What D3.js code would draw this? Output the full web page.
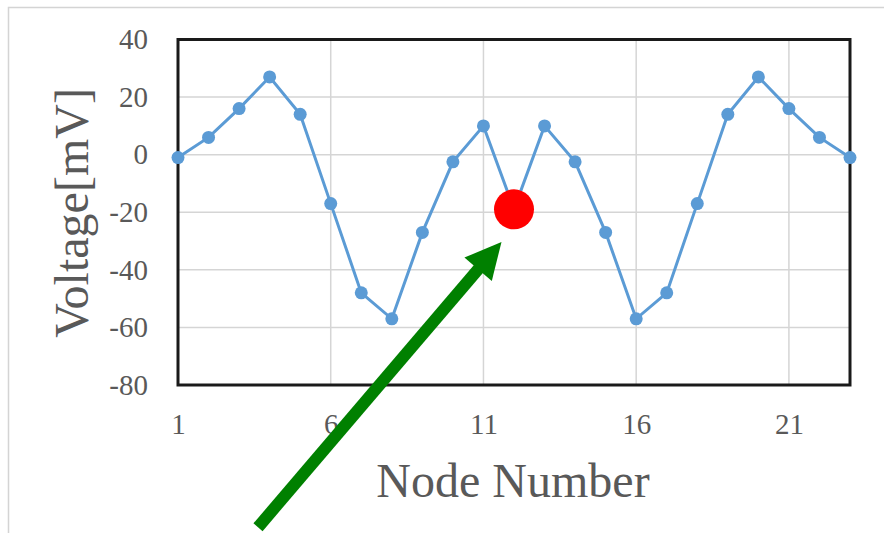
<!DOCTYPE html>
<html>
<head>
<meta charset="utf-8">
<script src="https://cdn.jsdelivr.net/npm/d3@7"></script>
<style>
  body { margin: 0; background: #fff; }
  text { font-family: "Liberation Serif", "Times New Roman", serif; }
</style>
</head>
<body>
<svg id="chart" width="884" height="533"></svg>
<script>
// data
const nodes = d3.range(1, 24);
const voltage = [-1, 6, 16, 27, 14, -17, -48, -57, -27, -2.5, 10, -19, 10, -2.5, -27, -57, -48, -17, 14, 27, 16, 6, -1];
const highlightNode = 12;
const yTicks = [-80, -60, -40, -20, 0, 20, 40];
const xTicks = [1, 6, 11, 16, 21];
// arrow in data units (node, mV): tail -> tip
const arrowTail = [3.62, -129.4];
const arrowTip = [11.59, -30.3];

let dims = { width: 884, height: 533, left: 178, right: 34, top: 39.5, bottom: 148 };
dims.plotW = dims.width - dims.left - dims.right;
dims.plotH = dims.height - dims.top - dims.bottom;

const svg = d3.select("#chart");

// outer frame
svg.append("path")
  .attr("d", "M8.5,540 V7.5 H890")
  .attr("fill", "none")
  .attr("stroke", "#d4d4d4")
  .attr("stroke-width", 1.5);

const x = d3.scaleLinear().domain([1, 23]).range([dims.left, dims.left + dims.plotW]);
const y = d3.scaleLinear().domain([-80, 40]).range([dims.top + dims.plotH, dims.top]);

// grid
svg.append("g").selectAll("line").data(yTicks).join("line")
  .attr("x1", x(1)).attr("x2", x(23))
  .attr("y1", d => y(d)).attr("y2", d => y(d))
  .attr("stroke", "#d5d5d5").attr("stroke-width", 1.5);
svg.append("g").selectAll("line").data(xTicks).join("line")
  .attr("x1", d => x(d)).attr("x2", d => x(d))
  .attr("y1", y(-80)).attr("y2", y(40))
  .attr("stroke", "#d5d5d5").attr("stroke-width", 1.5);

// axes labels (plain hyphen minus like the original)
const fmt = d => String(d);
const yAxis = d3.axisLeft(y).tickValues(yTicks).tickFormat(fmt).tickSize(0).tickPadding(30);
svg.append("g")
  .attr("transform", `translate(${dims.left},0)`)
  .call(yAxis)
  .call(g => g.select(".domain").remove())
  .call(g => g.selectAll("text")
    .attr("fill", "#595959")
    .style("font-family", "'Liberation Serif', serif")
    .style("font-size", "29px"));

const xAxis = d3.axisBottom(x).tickValues(xTicks).tickFormat(fmt).tickSize(0).tickPadding(28);
svg.append("g")
  .attr("transform", `translate(0,${y(-80)})`)
  .call(xAxis)
  .call(g => g.select(".domain").remove())
  .call(g => g.selectAll("text")
    .attr("fill", "#595959")
    .style("font-family", "'Liberation Serif', serif")
    .style("font-size", "29px"));

// plot border
svg.append("rect")
  .attr("x", x(1)).attr("y", y(40))
  .attr("width", x(23) - x(1)).attr("height", y(-80) - y(40))
  .attr("fill", "none")
  .attr("stroke", "#1a1a1a")
  .attr("stroke-width", 3);

// titles
svg.append("text")
  .attr("x", 513).attr("y", 497)
  .attr("text-anchor", "middle")
  .attr("fill", "#595959")
  .style("font-size", "48px")
  .text("Node Number");

svg.append("text")
  .attr("transform", "translate(88,213) rotate(-90)")
  .attr("text-anchor", "middle")
  .attr("fill", "#595959")
  .style("font-size", "48px")
  .text("Voltage[mV]");

// series
const data = nodes.map((n, i) => ({ node: n, v: voltage[i] }));
const line = d3.line().x(d => x(d.node)).y(d => y(d.v));

svg.append("path")
  .datum(data)
  .attr("d", line)
  .attr("fill", "none")
  .attr("stroke", "#5b9bd5")
  .attr("stroke-width", 3);

svg.append("g").selectAll("circle")
  .data(data.filter(d => d.node !== highlightNode))
  .join("circle")
  .attr("cx", d => x(d.node))
  .attr("cy", d => y(d.v))
  .attr("r", 6.5)
  .attr("fill", "#5b9bd5");

const hl = data.find(d => d.node === highlightNode);
svg.append("circle")
  .attr("cx", x(hl.node)).attr("cy", y(hl.v))
  .attr("r", 20)
  .attr("fill", "#ff0000");

// green arrow
const tx = x(arrowTail[0]), ty = y(arrowTail[1]);
const hx = x(arrowTip[0]), hy = y(arrowTip[1]);
const ang = Math.atan2(hy - ty, hx - tx);
const headLen = 36, headHalf = 18;
const bx = hx - headLen * Math.cos(ang), by = hy - headLen * Math.sin(ang);
svg.append("line")
  .attr("x1", tx).attr("y1", ty)
  .attr("x2", bx + 2 * Math.cos(ang)).attr("y2", by + 2 * Math.sin(ang))
  .attr("stroke", "#008000")
  .attr("stroke-width", 12);
svg.append("polygon")
  .attr("points", [
    [hx, hy],
    [bx + headHalf * Math.sin(ang), by - headHalf * Math.cos(ang)],
    [bx - headHalf * Math.sin(ang), by + headHalf * Math.cos(ang)]
  ].map(p => p.join(",")).join(" "))
  .attr("fill", "#008000");
</script>
</body>
</html>
